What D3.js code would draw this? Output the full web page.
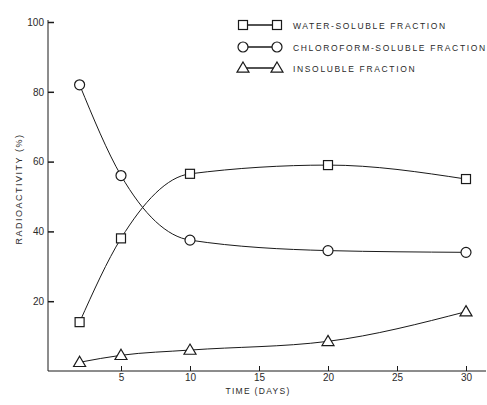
<!DOCTYPE html>
<html><head><meta charset="utf-8">
<script src="https://cdn.jsdelivr.net/npm/d3@7"></script>
<style>
body{margin:0;background:#fff;}
text{font-family:"Liberation Sans","DejaVu Sans",sans-serif;fill:#2a2a2a;}
</style></head>
<body>
<svg id="c" width="487" height="405"></svg>
<script>
const days = [2, 5, 10, 20, 30];
const waterSoluble = [14, 38, 56.5, 59, 55];
const chloroformSoluble = [82, 56, 37.5, 34.5, 34];
const insoluble = [2.5, 4.5, 6, 8.5, 17];
const xTicks = [5, 10, 15, 20, 25, 30];
const yTicks = [20, 40, 60, 80, 100];
const seriesNames = ["WATER-SOLUBLE FRACTION", "CHLOROFORM-SOLUBLE FRACTION", "INSOLUBLE FRACTION"];
const seriesShapes = ["square", "circle", "triangle"];

const svg = d3.select("#c");
const x = d3.scaleLinear().domain([0, 30]).range([52, 466]);
const y = d3.scaleLinear().domain([0, 100]).range([371, 22]);
const ink = "#1a1a1a";

// axes
const xAxis = d3.axisBottom(x).tickValues(xTicks).tickSize(-5).tickPadding(3).tickSizeOuter(0);
const gx = svg.append("g").attr("transform", "translate(0,371)").call(xAxis);
gx.select(".domain").remove();
gx.append("line").attr("x1", 48).attr("x2", 486).attr("y1", 0).attr("y2", 0).attr("stroke", ink).attr("stroke-width", 1);
gx.selectAll(".tick line").attr("stroke", ink);
gx.selectAll(".tick text").attr("font-size", 10).attr("fill", "#333").style("font-family", "Liberation Sans, DejaVu Sans, sans-serif");

const yAxis = d3.axisLeft(y).tickValues(yTicks).tickSize(-6).tickPadding(4).tickSizeOuter(0);
const gy = svg.append("g").attr("transform", "translate(48,0)").call(yAxis);
gy.select(".domain").remove();
gy.append("line").attr("x1", 0).attr("x2", 0).attr("y1", y(100) - 2).attr("y2", 371).attr("stroke", ink).attr("stroke-width", 1);
gy.selectAll(".tick line").attr("stroke", ink).attr("stroke-width", 1.5);
gy.selectAll(".tick text").attr("font-size", 10).attr("fill", "#333").style("font-family", "Liberation Sans, DejaVu Sans, sans-serif");

svg.append("text").attr("x", 258).attr("y", 394).attr("text-anchor", "middle")
  .attr("font-size", 8.5).attr("letter-spacing", 1.3).text("TIME (DAYS)");
svg.append("text").attr("transform", "translate(22,189) rotate(-90)").attr("text-anchor", "middle")
  .attr("font-size", 9).attr("letter-spacing", 1.5).text("RADIOACTIVITY (%)");

// series
const allSeries = [waterSoluble, chloroformSoluble, insoluble];
const line = d3.line().x((d, i) => x(days[i])).y(d => y(d)).curve(d3.curveMonotoneX);

function marker(g, shape, cx, cy) {
  if (shape === "square") {
    g.append("rect").attr("x", cx - 4.5).attr("y", cy - 4.5).attr("width", 9).attr("height", 9)
      .attr("fill", "#fff").attr("stroke", ink).attr("stroke-width", 1.2);
  } else if (shape === "circle") {
    g.append("circle").attr("cx", cx).attr("cy", cy).attr("r", 5)
      .attr("fill", "#fff").attr("stroke", ink).attr("stroke-width", 1.2);
  } else {
    const s = 6;
    g.append("path").attr("d", `M${cx},${cy - s}L${cx + s},${cy + s * 0.7}L${cx - s},${cy + s * 0.7}Z`)
      .attr("fill", "#fff").attr("stroke", ink).attr("stroke-width", 1.2);
  }
}

allSeries.forEach((vals, k) => {
  const g = svg.append("g");
  g.append("path").attr("d", line(vals)).attr("fill", "none").attr("stroke", ink).attr("stroke-width", 1);
  vals.forEach((v, i) => marker(g, seriesShapes[k], x(days[i]), y(v)));
});

// legend
const legendY = [25, 47, 68];
seriesNames.forEach((name, k) => {
  const g = svg.append("g");
  g.append("line").attr("x1", 243).attr("x2", 277).attr("y1", legendY[k]).attr("y2", legendY[k])
    .attr("stroke", ink).attr("stroke-width", 1.3);
  marker(g, seriesShapes[k], 243, legendY[k]);
  marker(g, seriesShapes[k], 277, legendY[k]);
  g.append("text").attr("x", 293).attr("y", legendY[k] + 3.5).attr("font-size", 8.5)
    .attr("letter-spacing", 1.65).text(name);
});
</script>
</body></html>
